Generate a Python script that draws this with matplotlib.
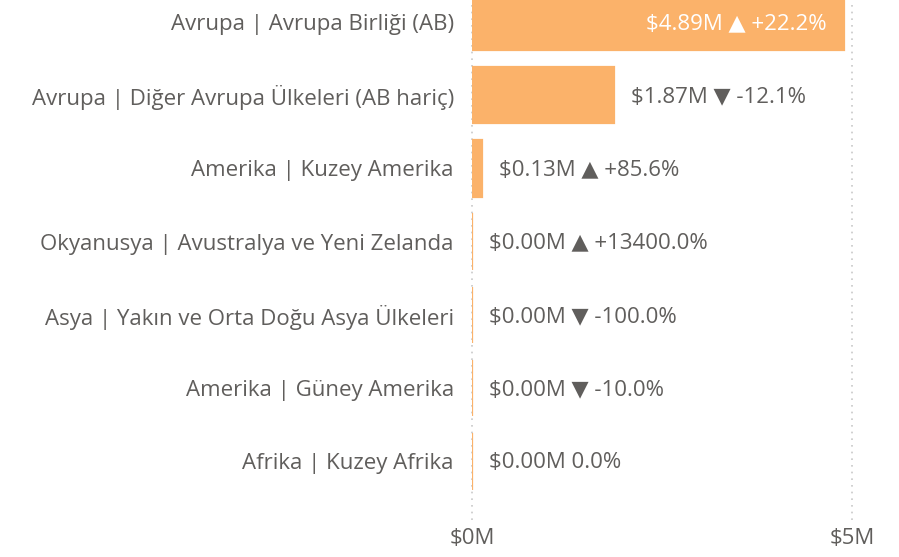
import matplotlib.pyplot as plt

plt.rcParams['font.family'] = ['Open Sans', 'DejaVu Sans']

categories = [
    "Avrupa | Avrupa Birliği (AB)",
    "Avrupa | Diğer Avrupa Ülkeleri (AB hariç)",
    "Amerika | Kuzey Amerika",
    "Okyanusya | Avustralya ve Yeni Zelanda",
    "Asya | Yakın ve Orta Doğu Asya Ülkeleri",
    "Amerika | Güney Amerika",
    "Afrika | Kuzey Afrika",
]
values = [4.89, 1.87, 0.13, 0.001, 0.001, 0.001, 0.001]  # $M
changes = [22.2, -12.1, 85.6, 13400.0, -100.0, -10.0, 0.0]  # % change

bar_color = "#FBB26A"
text_color = "#605E5C"
fs = 16

fig = plt.figure(figsize=(8.99, 5.57), dpi=100)
ax = fig.add_axes([472 / 899, 1 - 520 / 557, 380 / 899, 520 / 557])

ypos = list(range(len(categories)))
ax.barh(ypos, values, height=0.77, color=bar_color, edgecolor=bar_color, linewidth=1.6)

for y, v, c in zip(ypos, values, changes):
    if c > 0:
        chg = f"▲ +{c:.1f}%"
    elif c < 0:
        chg = f"▼ {c:.1f}%"
    else:
        chg = f"{c:.1f}%"
    label = f"${v:.2f}M {chg}"
    if v > 4:
        ax.annotate(label, (v, y), xytext=(-12, -1), textcoords="offset points",
                    ha="right", va="center", color="white", fontsize=fs)
    else:
        ax.annotate(label, (v, y), xytext=(12, -1), textcoords="offset points",
                    ha="left", va="center", color=text_color, fontsize=fs)

ax.set_xlim(0, 5)
ax.set_ylim(6.8, -0.3)
ax.set_xticks([0, 5])
ax.set_xticklabels(["$0M", "$5M"], color=text_color, fontsize=fs)
ax.set_yticks(ypos)
ax.set_yticklabels(categories, color=text_color, fontsize=fs)
ax.tick_params(axis="both", length=0)
ax.tick_params(axis="y", pad=13)
ax.tick_params(axis="x", pad=6)

for xv in [0, 5]:
    ax.axvline(xv, linestyle=(0, (1, 3)), color="#C8C8C8", linewidth=1.2,
               clip_on=False, zorder=0)
for s in ax.spines.values():
    s.set_visible(False)

fig.savefig("out.png", dpi=100)
plt.close(fig)
